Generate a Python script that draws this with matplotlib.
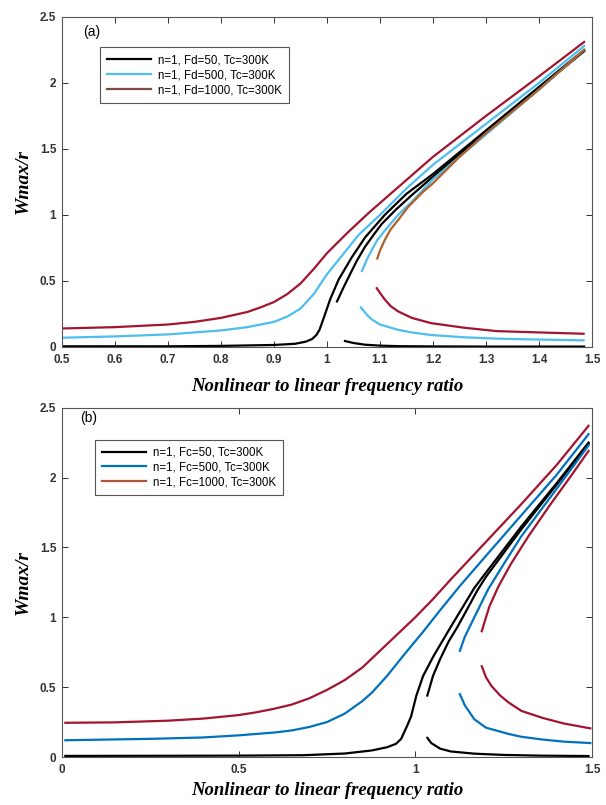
import matplotlib
matplotlib.use("Agg")
import matplotlib.pyplot as plt

# ---------------- Panel (a) data ----------------
a_red_up_x = [0.5, 0.6, 0.7, 0.75, 0.8, 0.85, 0.875, 0.9, 0.925, 0.95, 0.975, 1.0, 1.04, 1.08, 1.12, 1.2, 1.3, 1.4, 1.485]
a_red_up_y = [0.14, 0.15, 0.17, 0.19, 0.22, 0.265, 0.30, 0.34, 0.40, 0.48, 0.59, 0.71, 0.87, 1.02, 1.16, 1.44, 1.75, 2.05, 2.31]
a_red_mid_x = [1.095, 1.1, 1.109, 1.12, 1.134, 1.153, 1.18, 1.2, 1.25, 1.3, 1.4, 1.485]
a_red_mid_y = [0.67, 0.73, 0.81, 0.89, 0.96, 1.06, 1.17, 1.24, 1.44, 1.62, 1.95, 2.25]
a_red_low_x = [1.094, 1.1, 1.109, 1.12, 1.134, 1.16, 1.197, 1.26, 1.32, 1.4, 1.484]
a_red_low_y = [0.445, 0.41, 0.36, 0.31, 0.27, 0.22, 0.18, 0.145, 0.12, 0.11, 0.10]

a_cyan_up_x = [0.5, 0.6, 0.7, 0.8, 0.85, 0.9, 0.925, 0.95, 0.975, 1.0, 1.03, 1.06, 1.1, 1.15, 1.2, 1.3, 1.4, 1.485]
a_cyan_up_y = [0.07, 0.08, 0.095, 0.125, 0.15, 0.19, 0.23, 0.29, 0.40, 0.55, 0.70, 0.85, 1.0, 1.2, 1.38, 1.69, 2.0, 2.28]
a_cyan_mid_x = [1.066, 1.075, 1.084, 1.095, 1.109, 1.134, 1.16, 1.2, 1.3, 1.4, 1.485]
a_cyan_mid_y = [0.575, 0.66, 0.73, 0.81, 0.88, 1.0, 1.1, 1.27, 1.61, 1.95, 2.25]
a_cyan_low_x = [1.064, 1.074, 1.084, 1.1, 1.134, 1.16, 1.197, 1.26, 1.32, 1.4, 1.484]
a_cyan_low_y = [0.30, 0.25, 0.21, 0.17, 0.13, 0.11, 0.09, 0.073, 0.063, 0.056, 0.05]

a_blk_up_x = [0.5, 0.7, 0.8, 0.9, 0.94, 0.96, 0.972, 0.98, 0.986, 0.994, 1.006, 1.022, 1.047, 1.072, 1.109, 1.15, 1.2, 1.3, 1.4, 1.485]
a_blk_up_y = [0.005, 0.005, 0.008, 0.015, 0.024, 0.04, 0.06, 0.09, 0.13, 0.22, 0.36, 0.51, 0.68, 0.83, 1.0, 1.16, 1.31, 1.64, 1.97, 2.25]
a_blk_mid_x = [1.019, 1.03, 1.041, 1.056, 1.072, 1.09, 1.103, 1.13, 1.16, 1.2, 1.3, 1.4, 1.485]
a_blk_mid_y = [0.345, 0.44, 0.53, 0.65, 0.76, 0.86, 0.93, 1.04, 1.15, 1.29, 1.63, 1.96, 2.24]
a_blk_low_x = [1.034, 1.05, 1.072, 1.1, 1.134, 1.2, 1.3, 1.4, 1.485]
a_blk_low_y = [0.045, 0.03, 0.017, 0.01, 0.006, 0.004, 0.003, 0.003, 0.003]

a_labels = ["n=1, Fd=50, Tc=300K", "n=1, Fd=500, Tc=300K", "n=1, Fd=1000, Tc=300K"]
a_xticks = [0.5, 0.6, 0.7, 0.8, 0.9, 1.0, 1.1, 1.2, 1.3, 1.4, 1.5]
a_xticklabels = ["0.5", "0.6", "0.7", "0.8", "0.9", "1", "1.1", "1.2", "1.3", "1.4", "1.5"]

# ---------------- Panel (b) data ----------------
b_red_up_x = [0.01, 0.15, 0.3, 0.4, 0.5, 0.55, 0.6, 0.65, 0.7, 0.75, 0.8, 0.85, 0.9, 0.95, 1.0, 1.05, 1.1, 1.2, 1.3, 1.4, 1.49]
b_red_up_y = [0.245, 0.248, 0.26, 0.275, 0.30, 0.32, 0.345, 0.375, 0.42, 0.48, 0.55, 0.64, 0.76, 0.88, 1.0, 1.13, 1.27, 1.54, 1.81, 2.09, 2.37]
b_red_mid_x = [1.188, 1.2, 1.21, 1.235, 1.27, 1.32, 1.38, 1.44, 1.49]
b_red_mid_y = [0.90, 1.0, 1.08, 1.22, 1.38, 1.58, 1.80, 2.01, 2.19]
b_red_low_x = [1.188, 1.2, 1.215, 1.24, 1.264, 1.3, 1.36, 1.42, 1.495]
b_red_low_y = [0.65, 0.57, 0.51, 0.44, 0.39, 0.33, 0.28, 0.24, 0.205]

b_blue_up_x = [0.01, 0.25, 0.4, 0.5, 0.6, 0.65, 0.7, 0.75, 0.8, 0.85, 0.877, 0.92, 0.974, 1.02, 1.07, 1.128, 1.2, 1.3, 1.4, 1.49]
b_blue_up_y = [0.12, 0.13, 0.14, 0.155, 0.175, 0.19, 0.215, 0.25, 0.31, 0.40, 0.46, 0.58, 0.75, 0.89, 1.05, 1.23, 1.44, 1.73, 2.02, 2.31]
b_blue_mid_x = [1.126, 1.14, 1.167, 1.206, 1.25, 1.3, 1.4, 1.49]
b_blue_mid_y = [0.76, 0.86, 1.0, 1.2, 1.38, 1.58, 1.92, 2.23]
b_blue_low_x = [1.126, 1.14, 1.167, 1.2, 1.264, 1.3, 1.36, 1.42, 1.495]
b_blue_low_y = [0.45, 0.37, 0.27, 0.21, 0.165, 0.145, 0.125, 0.11, 0.10]

b_blk_up_x = [0.01, 0.3, 0.5, 0.684, 0.8, 0.877, 0.92, 0.945, 0.96, 0.969, 0.978, 0.988, 1.003, 1.022, 1.051, 1.1, 1.167, 1.2, 1.3, 1.4, 1.49]
b_blk_up_y = [0.008, 0.009, 0.01, 0.013, 0.025, 0.047, 0.07, 0.094, 0.13, 0.18, 0.23, 0.29, 0.44, 0.58, 0.72, 0.93, 1.21, 1.32, 1.65, 1.96, 2.25]
b_blk_mid_x = [1.034, 1.05, 1.07, 1.095, 1.119, 1.145, 1.175, 1.2, 1.3, 1.4, 1.49]
b_blk_mid_y = [0.44, 0.58, 0.70, 0.83, 0.93, 1.05, 1.19, 1.29, 1.63, 1.95, 2.24]
b_blk_low_x = [1.034, 1.045, 1.07, 1.1, 1.167, 1.25, 1.35, 1.49]
b_blk_low_y = [0.137, 0.10, 0.06, 0.04, 0.024, 0.015, 0.01, 0.007]

b_labels = ["n=1, Fc=50, Tc=300K", "n=1, Fc=500, Tc=300K", "n=1, Fc=1000, Tc=300K"]
b_xticks = [0, 0.5, 1.0, 1.5]
b_xticklabels = ["0", "0.5", "1", "1.5"]

yticks = [0, 0.5, 1.0, 1.5, 2.0, 2.5]
yticklabels = ["0", "0.5", "1", "1.5", "2", "2.5"]

BLACK = "#000000"
CYAN = "#4DBEEE"
BLUE = "#0072BD"
RED = "#A2142F"
ORANGE = "#B0602A"
LEG_A3 = "#7E4A44"
LEG_B3 = "#B5523B"
LW = 1.6

fig = plt.figure(figsize=(6.06, 8.05), dpi=100)
ax_a = fig.add_axes([0.102, 0.569, 0.875, 0.410])
ax_b = fig.add_axes([0.102, 0.0596, 0.875, 0.434])

serif = dict(family="Liberation Serif", weight="bold", style="italic")


def style_axes(ax, xlim, xticks, xticklabels, xlabelpad):
    ax.set_xlim(*xlim)
    ax.set_ylim(0, 2.5)
    ax.set_xticks(xticks)
    ax.set_xticklabels(xticklabels)
    ax.set_yticks(yticks)
    ax.set_yticklabels(yticklabels)
    ax.tick_params(direction="in", length=4, width=0.7, top=True, right=True,
                   labelsize=8.5, colors="#333333")
    ax.tick_params(axis="x", pad=5)
    ax.tick_params(axis="y", pad=4)
    for lab in ax.get_xticklabels() + ax.get_yticklabels():
        lab.set_fontweight("bold")
        lab.set_family("Liberation Sans")
    for s in ax.spines.values():
        s.set_color("#555555")
        s.set_linewidth(0.8)
    ax.set_xlabel("Nonlinear to linear frequency ratio", fontsize=13.5, labelpad=xlabelpad, **serif)
    ax.set_ylabel("Wmax/r", fontsize=14, labelpad=6, **serif)


def add_legend(ax, handles, labels, anchor):
    leg = ax.legend(handles, labels, loc="upper left", bbox_to_anchor=anchor,
                    fancybox=False, framealpha=1, edgecolor="#555555", handlelength=3.8,
                    prop=dict(family="Liberation Sans", size=8.3), borderpad=0.6,
                    labelspacing=0.25, handletextpad=0.6)
    leg.get_frame().set_linewidth(0.8)


# Panel (a)
h1, = ax_a.plot(a_blk_up_x, a_blk_up_y, color=BLACK, lw=LW)
ax_a.plot(a_blk_mid_x, a_blk_mid_y, color=BLACK, lw=LW)
ax_a.plot(a_blk_low_x, a_blk_low_y, color=BLACK, lw=LW)
h2, = ax_a.plot(a_cyan_up_x, a_cyan_up_y, color=CYAN, lw=LW)
ax_a.plot(a_cyan_mid_x, a_cyan_mid_y, color=CYAN, lw=LW)
ax_a.plot(a_cyan_low_x, a_cyan_low_y, color=CYAN, lw=LW)
ax_a.plot(a_red_up_x, a_red_up_y, color=RED, lw=LW)
ax_a.plot(a_red_mid_x, a_red_mid_y, color=ORANGE, lw=LW)
ax_a.plot(a_red_low_x, a_red_low_y, color=RED, lw=LW)
h3, = ax_a.plot([], [], color=LEG_A3, lw=LW)
style_axes(ax_a, (0.5, 1.5), a_xticks, a_xticklabels, 9)
add_legend(ax_a, [h1, h2, h3], a_labels, (0.062, 0.925))
ax_a.text(0.04, 0.955, "(a)", transform=ax_a.transAxes, fontsize=10,
          family="Liberation Sans", va="center", ha="left")

# Panel (b)
g1, = ax_b.plot(b_blk_up_x, b_blk_up_y, color=BLACK, lw=LW)
ax_b.plot(b_blk_mid_x, b_blk_mid_y, color=BLACK, lw=LW)
ax_b.plot(b_blk_low_x, b_blk_low_y, color=BLACK, lw=LW)
g2, = ax_b.plot(b_blue_up_x, b_blue_up_y, color=BLUE, lw=LW)
ax_b.plot(b_blue_mid_x, b_blue_mid_y, color=BLUE, lw=LW)
ax_b.plot(b_blue_low_x, b_blue_low_y, color=BLUE, lw=LW)
ax_b.plot(b_red_up_x, b_red_up_y, color=RED, lw=LW)
ax_b.plot(b_red_mid_x, b_red_mid_y, color=RED, lw=LW)
ax_b.plot(b_red_low_x, b_red_low_y, color=RED, lw=LW)
g3, = ax_b.plot([], [], color=LEG_B3, lw=LW)
style_axes(ax_b, (0, 1.5), b_xticks, b_xticklabels, 4)
add_legend(ax_b, [g1, g2, g3], b_labels, (0.052, 0.925))
ax_b.text(0.035, 0.97, "(b)", transform=ax_b.transAxes, fontsize=10,
          family="Liberation Sans", va="center", ha="left")

fig.savefig("out.png", dpi=100)
